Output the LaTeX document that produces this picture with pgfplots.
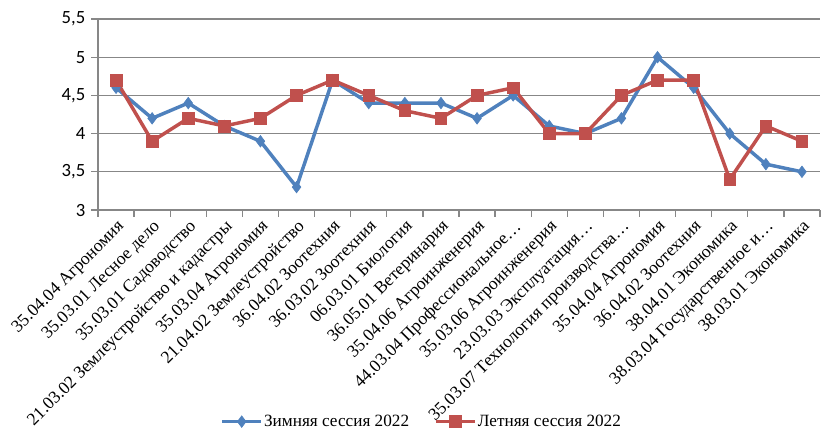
\documentclass[border=0pt]{standalone}
\usepackage{fontspec}
\setmainfont{Liberation Serif}
\newfontfamily\calibri{Carlito}
\usepackage{pgfplots}
\pgfplotsset{compat=1.18}

\definecolor{winterblue}{HTML}{4F81BD}
\definecolor{summerred}{HTML}{C0504D}
\definecolor{gridgray}{HTML}{878787}

\begin{document}
\begin{tikzpicture}
\begin{axis}[
  at={(0,0)}, anchor=south west,
  scale only axis,
  width=541.5pt, height=143.25pt,
  xmin=0.5, xmax=20.5,
  ymin=3, ymax=5.5,
  axis x line*=bottom, axis y line*=left,
  axis line style={gridgray, line width=1.2pt},
  ytick={3,3.5,4,4.5,5,5.5},
  ymajorgrids,
  grid style={gridgray, line width=1pt},
  xtick={1,...,20},
  major x tick style={draw=none},
  minor xtick={0.5,1.5,...,20.5},
  minor x tick style={gridgray, line width=1pt},
  minor tick length=5pt,
  major tick length=5pt,
  tick align=outside,
  ytick style={gridgray, line width=1pt},
  /pgf/number format/use comma,
  /pgf/number format/assume math mode=true,
  yticklabel style={font=\calibri\fontsize{14}{16}\selectfont, xshift=-1pt},
  xticklabel style={font=\fontsize{13.2}{15}\selectfont, rotate=45, anchor=north east, inner sep=1pt},
  xticklabels={
    35.04.04 Агрономия,
    35.03.01 Лесное дело,
    35.03.01 Садоводство,
    21.03.02 Землеустройство и кадастры,
    35.03.04 Агрономия,
    21.04.02 Землеустройство,
    36.04.02 Зоотехния,
    36.03.02 Зоотехния,
    06.03.01 Биология,
    36.05.01 Ветеринария,
    35.04.06 Агроинженерия,
    44.03.04 Профессиональное…,
    35.03.06 Агроинженерия,
    23.03.03 Эксплуатация…,
    35.03.07 Технология производства…,
    35.04.04 Агрономия,
    36.04.02 Зоотехния,
    38.04.01 Экономика,
    38.03.04 Государственное и…,
    38.03.01 Экономика},
  legend columns=2,
  legend style={draw=none, fill=none, at={(0.448,-1.108)}, anchor=center,
    font=\fontsize{12.9}{15}\selectfont,
    nodes={inner xsep=1pt, inner ysep=1pt},
    /tikz/every even column/.append style={column sep=18pt}},
  legend image code/.code={
    \draw[#1, mark=none] (0pt,0pt) -- (29pt,0pt);
    \draw[#1, only marks] plot coordinates {(14.5pt,0pt)};
  },
  clip=false,
]
\addplot[winterblue, line width=2.6pt, mark=diamond*, mark size=4.3pt,
  mark options={solid, fill=winterblue, line width=0.5pt}]
  coordinates {
  (1,4.6) (2,4.2) (3,4.4) (4,4.1) (5,3.9) (6,3.3) (7,4.7) (8,4.4) (9,4.4) (10,4.4)
  (11,4.2) (12,4.5) (13,4.1) (14,4.0) (15,4.2) (16,5.0) (17,4.6) (18,4.0) (19,3.6) (20,3.5)};
\addlegendentry{Зимняя сессия 2022}
\addplot[summerred, line width=2.6pt, mark=square*, mark size=4.4pt,
  mark options={solid, fill=summerred, line width=0.5pt}]
  coordinates {
  (1,4.7) (2,3.9) (3,4.2) (4,4.1) (5,4.2) (6,4.5) (7,4.7) (8,4.5) (9,4.3) (10,4.2)
  (11,4.5) (12,4.6) (13,4.0) (14,4.0) (15,4.5) (16,4.7) (17,4.7) (18,3.4) (19,4.1) (20,3.9)};
\addlegendentry{Летняя сессия 2022}
\end{axis}
\pgfresetboundingbox
\path[use as bounding box] (-73.5pt,-165pt) rectangle (542.25pt,157.5pt);
\end{tikzpicture}
\end{document}
